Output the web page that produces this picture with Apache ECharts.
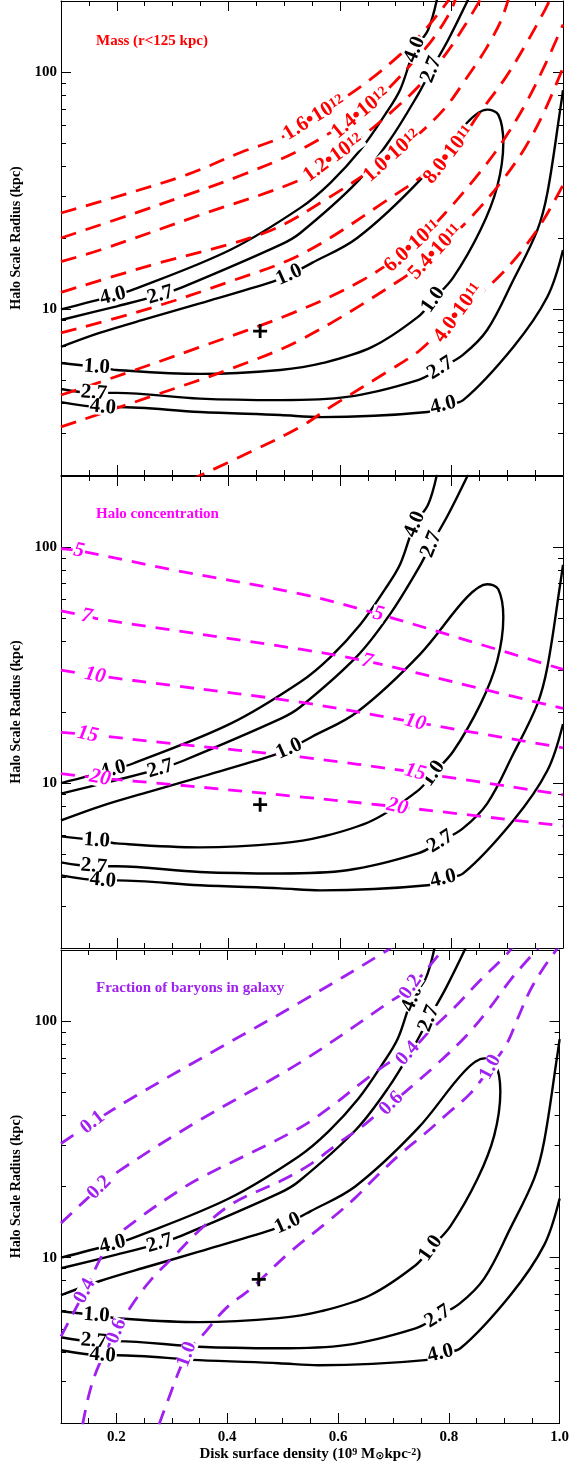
<!DOCTYPE html>
<html><head><meta charset="utf-8">
<script src="https://cdn.jsdelivr.net/npm/echarts@6/dist/echarts.min.js"></script>
<style>html,body{margin:0;padding:0;background:#fff}#c{width:572px;height:1466px}</style>
</head><body><div id="c"></div>
<script>
// ---------------- DATA ----------------
const xMajor = [0.2, 0.4, 0.6, 0.8, 1.0];
const xMinor = [0.15, 0.25, 0.3, 0.35, 0.45, 0.5, 0.55, 0.65, 0.7, 0.75, 0.85, 0.9, 0.95];
const yMajor = [10, 100];
const yMinor = [3, 4, 5, 6, 7, 8, 9, 20, 30, 40, 50, 60, 70, 80, 90];

// chi-square contours (same in all panels)
const chi10 = [[0.1,5.94],[0.164,5.71],[0.2,5.55],[0.349,5.34],[0.493,5.55],[0.570,5.94],[0.658,6.94],[0.740,9.29],[0.767,10.96],[0.803,13.6],[0.852,21.6],[0.882,32.9],[0.893,50.4],[0.884,66.3],[0.864,69.6],[0.828,61.3],[0.744,35.2],[0.631,20.0],[0.55,15.7],[0.509,13.97],[0.480,13.1],[0.349,10.6],[0.259,9.2],[0.169,7.95],[0.1,6.94]];
const chi27a = [[0.1,9.02],[0.2,10.3],[0.278,11.5],[0.318,12.4],[0.493,18.7],[0.529,21.0],[0.631,34.5],[0.690,52],[0.740,80.6],[0.764,102.7],[0.794,137],[0.830,203]];
const chi27b = [[1.0,84],[0.995,69.6],[0.972,31.0],[0.954,21.6],[0.911,13.3],[0.864,8.18],[0.820,6.41],[0.780,5.65],[0.740,5.03],[0.613,4.27],[0.493,4.14],[0.349,4.2],[0.2,4.44],[0.159,4.44],[0.1,4.61]];
const chi40a = [[0.1,10.0],[0.193,11.4],[0.229,12.1],[0.403,17.8],[0.529,26.8],[0.583,34.2],[0.637,47.1],[0.681,66.3],[0.708,84.5],[0.734,124.7],[0.758,151],[0.774,203]];
const chi40b = [[1.0,17.8],[0.972,11.3],[0.911,6.94],[0.821,4.14],[0.785,3.94],[0.757,3.69],[0.565,3.51],[0.493,3.58],[0.349,3.69],[0.2,3.87],[0.175,3.87],[0.1,4.06]];
const chiLabelText = ['4.0','2.7','1.0','4.0','2.7','1.0','2.7','4.0','1.0','2.7','4.0'];
const chiLabelPos = [[0.193,11.4],[0.278,11.5],[0.509,13.97],[0.734,124.7],[0.764,102.7],[0.767,10.96],[0.780,5.65],[0.785,3.94],[0.164,5.71],[0.159,4.44],[0.175,3.87]];
const bestFit = [[0.457, 8.1]];

// Panel 1: mass within 125 kpc
const mass16 = [[0.1,25.5],[0.205,30.1],[0.326,37.0],[0.421,45.8],[0.498,53.5],[0.554,64.4],[0.609,78.2],[0.654,93.1],[0.708,118.8],[0.753,151.5],[0.796,203]];
const mass14 = [[0.1,20.0],[0.229,25.3],[0.326,30.4],[0.421,36.6],[0.529,47.1],[0.637,67.5],[0.685,84.5],[0.727,107.8],[0.766,137.5],[0.798,180],[0.807,203]];
const mass12 = [[0.1,15.9],[0.17,17.8],[0.349,25.0],[0.529,35.2],[0.588,43.6],[0.637,53.0],[0.691,67.6],[0.744,88.7],[0.789,118.8],[0.825,159],[0.852,203]];
const mass10 = [[0.1,11.8],[0.259,15.3],[0.469,21.2],[0.582,29.8],[0.693,44.5],[0.744,55.6],[0.789,70.9],[0.825,93.1],[0.861,124.7],[0.888,163.8],[0.902,203]];
const mass08 = [[0.1,7.95],[0.259,10.1],[0.403,13.1],[0.529,17.0],[0.672,27.6],[0.795,44.9],[0.852,68.2],[0.897,95],[0.933,130.9],[0.968,184],[0.977,203]];
const mass06 = [[0.1,4.35],[0.17,4.93],[0.349,6.93],[0.516,9.66],[0.636,13.1],[0.730,18.5],[0.789,25.5],[0.843,35.9],[0.888,49.5],[0.932,73.0],[0.968,107.8],[1.0,159]];
const mass054 = [[0.1,3.19],[0.259,4.27],[0.403,5.60],[0.529,7.43],[0.708,13.3],[0.771,17.5],[0.834,24.3],[0.888,34.2],[0.932,48.1],[0.968,69.6],[1.0,104.7]];
const mass04 = [[0.331,1.9],[0.439,2.50],[0.529,3.19],[0.583,3.87],[0.690,5.55],[0.744,6.74],[0.812,9.66],[0.891,14.2],[0.954,21.7],[1.0,33.5]];
const massLabelMant = ['1.6•10','1.4•10','1.2•10','1.0•10','8.0•10','6.0•10','5.4•10','4.0•10'];
const massLabelExp = ['12','12','12','12','11','11','11','11'];
const massLabelPos = [[0.554,64.4],[0.637,67.5],[0.588,43.6],[0.693,44.5],[0.795,44.9],[0.730,18.5],[0.771,17.5],[0.812,9.66]];

// Panel 2: halo concentration
const conc5 = [[0.1,98.4],[0.132,96.4],[0.3,80.1],[0.529,63.3],[0.669,52.0],[0.85,38.8],[1.0,30.3]];
const conc7 = [[0.1,53.6],[0.146,51.0],[0.169,49.5],[0.529,36.9],[0.649,32.8],[0.85,25.2],[1.0,20.7]];
const conc10 = [[0.1,30.1],[0.161,28.6],[0.3,25.9],[0.529,22.0],[0.735,18.1],[1.0,14.1]];
const conc15 = [[0.1,16.4],[0.148,16.05],[0.3,14.7],[0.529,12.9],[0.735,11.1],[1.0,8.92]];
const conc20 = [[0.1,10.96],[0.170,10.5],[0.3,9.86],[0.529,8.74],[0.703,7.93],[1.0,6.58]];
const concLabelText = ['5','7','10','15','20','5','7','10','15','20'];
const concLabelPos = [[0.132,96.4],[0.146,51.0],[0.161,28.6],[0.148,16.05],[0.170,10.5],[0.669,52.0],[0.649,32.8],[0.735,18.1],[0.735,11.1],[0.703,7.93]];

// Panel 3: baryon fraction in galaxy
const bary01 = [[0.1,30.4],[0.157,37.3],[0.236,48.5],[0.385,76.8],[0.529,119.2],[0.69,200],[0.70,210]];
const bary02 = [[0.1,14.0],[0.169,19.8],[0.205,23.3],[0.349,38.0],[0.529,66.3],[0.69,119.2],[0.731,139.4],[0.789,200],[0.80,215]];
const bary04 = [[0.1,4.65],[0.143,7.22],[0.187,11.4],[0.241,14.7],[0.313,19.2],[0.349,21.6],[0.529,35.2],[0.595,44.9],[0.641,54.6],[0.69,66.3],[0.726,73.1],[0.767,91.6],[0.811,114.7],[0.852,145],[0.900,186.9],[0.911,200],[0.92,215]];
const bary06 = [[0.139,1.97],[0.152,2.72],[0.169,3.54],[0.2,4.89],[0.229,6.36],[0.265,8.20],[0.301,9.97],[0.349,13.0],[0.409,16.9],[0.498,21.2],[0.552,25.0],[0.600,30.4],[0.641,35.5],[0.672,40.7],[0.696,44.9],[0.731,52.5],[0.780,66.3],[0.829,85.5],[0.875,114.7],[0.911,149.3],[0.947,186.9],[0.959,200],[0.965,215]];
const bary10 = [[0.277,1.97],[0.290,2.39],[0.327,3.90],[0.362,4.89],[0.398,6.12],[0.444,7.44],[0.510,10.4],[0.583,14.3],[0.631,17.9],[0.667,21.8],[0.713,27.5],[0.757,33.5],[0.798,40.7],[0.839,49.5],[0.875,63.8],[0.905,80.7],[0.923,101],[0.947,135.3],[0.972,169.4],[0.990,194.3],[1.0,210]];
const baryLabelText = ['0.1','0.2','0.2','0.4','0.4','0.6','0.6','1.0','1.0'];
const baryLabelPos = [[0.157,37.3],[0.169,19.8],[0.731,139.4],[0.143,7.22],[0.726,73.1],[0.2,4.89],[0.696,44.9],[0.327,3.90],[0.875,63.8]];

// ---------------- STYLE ----------------
const FONT = '"Liberation Serif","Times New Roman",serif';
const RED = '#ff0000', MAG = '#ff00ff', PUR = '#a020f0';
const chiAngles = [14,16,24,68,68,55,32,14,-4,-5,-5];
const massAngles = [32,40,36,42,52,42,47,54];
const concAngles = [-11,-11,-11,-11,-11,-14,-14,-14,-14,-14];
const baryAngles = [38,45,55,62,48,68,45,70,62];
const panels = [{top:1,height:474},{top:476,height:472},{top:950,height:473}];
const titles = [['Mass (r<125 kpc)', RED, 34], ['Halo concentration', MAG, 507], ['Fraction of baryons in galaxy', PUR, 981]];

const grid = panels.map(p => ({left:61, width:502, top:p.top, height:p.height}));
const xAxis = [], yAxis = [];
panels.forEach((p, g) => {
  const last = g === 2;
  const bx = {type:'value', min:0.1, max:1.0, gridIndex:g, splitLine:{show:false}};
  const line = {show:true, onZero:false, lineStyle:{color:'#000', width:1}};
  const tk = (len, vals) => ({show:true, inside:true, length:len, customValues:vals, lineStyle:{color:'#000', width:1}});
  xAxis.push(Object.assign({}, bx, {position:'bottom', axisLine:line, axisTick:tk(10, xMajor),
    axisLabel:{show:last, customValues:xMajor, formatter:v => v.toFixed(1), fontFamily:FONT, fontWeight:'bold', fontSize:15, color:'#000', margin:7},
    name: last ? 'Disk surface density (10{sup|9} M{sub|⊙}kpc{sup|-2})' : '', nameLocation:'middle', nameGap:24,
    nameTextStyle:{fontFamily:FONT, fontWeight:'bold', fontSize:15, color:'#000',
      rich:{sup:{fontFamily:FONT, fontWeight:'bold', fontSize:10, verticalAlign:'top', lineHeight:10, color:'#000'},
            sub:{fontFamily:'DejaVu Sans', fontSize:11, verticalAlign:'bottom', lineHeight:11, color:'#000'}}}}));
  xAxis.push(Object.assign({}, bx, {position:'bottom', axisLine:{show:false}, axisTick:tk(5, xMinor), axisLabel:{show:false}}));
  xAxis.push(Object.assign({}, bx, {position:'top', axisLine:line, axisTick:tk(10, xMajor), axisLabel:{show:false}}));
  xAxis.push(Object.assign({}, bx, {position:'top', axisLine:{show:false}, axisTick:tk(5, xMinor), axisLabel:{show:false}}));
  const by = {type:'log', logBase:10, min:2, max:200, gridIndex:g, splitLine:{show:false}};
  yAxis.push(Object.assign({}, by, {position:'left', axisLine:line, axisTick:tk(10, yMajor),
    axisLabel:{show:true, customValues:yMajor, formatter:v => String(Math.round(v)), fontFamily:FONT, fontWeight:'bold', fontSize:15, color:'#000', margin:4},
    name:'Halo Scale Radius (kpc)', nameLocation:'middle', nameGap:36, nameRotate:90,
    nameTextStyle:{fontFamily:FONT, fontWeight:'bold', fontSize:14, color:'#000'}}));
  yAxis.push(Object.assign({}, by, {position:'left', axisLine:{show:false}, axisTick:tk(5, yMinor), axisLabel:{show:false}}));
  yAxis.push(Object.assign({}, by, {position:'right', axisLine:line, axisTick:tk(10, yMajor), axisLabel:{show:false}}));
  yAxis.push(Object.assign({}, by, {position:'right', axisLine:{show:false}, axisTick:tk(5, yMinor), axisLabel:{show:false}}));
});

function lineSeries(g, data, color, width, dash) {
  return {type:'line', xAxisIndex:4*g, yAxisIndex:4*g, data:data, smooth:0.35, showSymbol:false, symbol:'none',
    silent:true, z:2, lineStyle:{color:color, width:width, type:dash || 'solid', cap:'butt', opacity:1}};
}
function labelSeries(g, texts, pos, angles, style, rich) {
  return {type:'scatter', xAxisIndex:4*g, yAxisIndex:4*g, symbolSize:1, silent:true, z:10,
    itemStyle:{color:'rgba(0,0,0,0)', opacity:1},
    data: pos.map((p, i) => ({value:p, label:{formatter:texts[i], rotate:angles[i]}})),
    label:Object.assign({show:true, position:'inside', fontFamily:FONT, fontWeight:'bold', backgroundColor:'#fff',
      padding:[0,1], textBorderWidth:0, textShadowBlur:0, opacity:1}, style, rich ? {rich:rich} : {})};
}

const series = [];
panels.forEach((p, g) => {
  [chi10, chi27a, chi27b, chi40a, chi40b].forEach(d => series.push(lineSeries(g, d, '#000', 2.4)));
  series.push(labelSeries(g, chiLabelText, chiLabelPos, chiAngles, {fontSize:21, color:'#000', lineHeight:16}));
  series.push({type:'scatter', xAxisIndex:4*g, yAxisIndex:4*g, data:bestFit, silent:true, z:11,
    symbol:'path://M4,0H6V4H10V6H6V10H4V6H0V4H4Z', symbolSize:14, itemStyle:{color:'#000', opacity:1}});
});
[mass16, mass14, mass12, mass10, mass08, mass06, mass054, mass04].forEach(d => series.push(lineSeries(0, d, RED, 2.8, [16, 10])));
series.push(labelSeries(0, massLabelMant.map((m, i) => m + '{s|' + massLabelExp[i] + '}'), massLabelPos, massAngles,
  {fontSize:21, color:RED, lineHeight:18},
  {s:{fontFamily:FONT, fontWeight:'bold', fontSize:14, color:RED, verticalAlign:'top', lineHeight:12}}));
[conc5, conc7, conc10, conc15, conc20].forEach(d => series.push(lineSeries(1, d, MAG, 2.8, [14, 10])));
series.push(labelSeries(1, concLabelText, concLabelPos, concAngles, {fontSize:21, color:MAG, fontStyle:'italic', lineHeight:17}));
[bary01, bary02, bary04, bary06, bary10].forEach(d => series.push(lineSeries(2, d, PUR, 2.8, [15, 10])));
series.push(labelSeries(2, baryLabelText, baryLabelPos, baryAngles, {fontSize:20, color:PUR, lineHeight:16}));

const chart = echarts.init(document.getElementById('c'), null, {renderer:'canvas'});
chart.setOption({
  animation:false,
  backgroundColor:'#fff',
  title: titles.map(t => ({text:t[0], left:96, top:t[2], padding:0,
    textStyle:{color:t[1], fontFamily:FONT, fontWeight:'bold', fontSize:15}})),
  grid: grid, xAxis: xAxis, yAxis: yAxis, series: series
});
</script></body></html>
